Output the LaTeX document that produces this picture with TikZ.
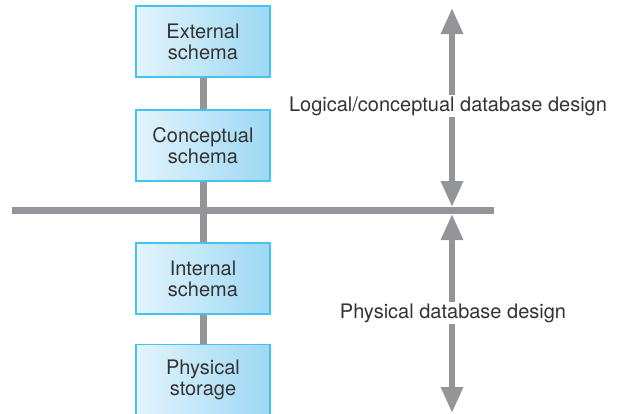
\documentclass[tikz,border=0pt]{standalone}
\usepackage{fontspec}
\setmainfont{TeX Gyre Heros}
\usetikzlibrary{positioning, arrows.meta}

\definecolor{boxL}{HTML}{E3F4FC}
\definecolor{boxR}{HTML}{9DD8F4}
\definecolor{boxEdge}{HTML}{45C3EE}
\definecolor{barGray}{HTML}{939598}
\definecolor{txtGray}{HTML}{333333}

\begin{document}
\begin{tikzpicture}[
  x=1pt, y=-1pt,
  every node/.style={font=\fontsize{20}{21}\selectfont, text=txtGray},
  level/.style={draw=boxEdge, line width=1.2pt, left color=boxL, right color=boxR,
                minimum width=134pt, minimum height=71pt, align=center, inner sep=0pt},
  spine/.style={draw=barGray, line width=7pt},
  span/.style={draw=barGray, line width=6pt, {Triangle[width=21pt,length=26pt]}-{Triangle[width=21pt,length=26pt]}},
  lbl/.style={font=\fontsize{20}{22}\selectfont, fill=white, inner sep=2pt}
]
\useasboundingbox (0,0) rectangle (620,413);

%--- Levels ---
\node[level] (ext)  at (203, 41.5)  {External\\schema};
\node[level] (conc) at (203, 145.5) {Conceptual\\schema};
\node[level] (int)  at (203, 278.5) {Internal\\schema};
\node[level] (phys) at (203, 380)   {Physical\\storage};

%--- Divider ---
\coordinate (divL) at (12, 210.5);
\coordinate (divR) at (494, 210.5);
\draw[spine] (divL) -- (divR);

%--- Spine between levels ---
\draw[spine] (ext.south) -- (conc.north);
\draw[spine] (conc.south) -- (int.north);
\draw[spine] (int.south) -- (phys.north);

%--- Design spans ---
\coordinate (logTop) at (452, 8);
\coordinate (logBot) at (452, 207);
\coordinate (phyTop) at (452, 214);
\coordinate (phyBot) at (452, 413);
\draw[span] (logTop) -- (logBot);
\draw[span] (phyTop) -- (phyBot);

\node[lbl] (logLbl) at (448, 106) {Logical/conceptual database design};
\node[lbl] (phyLbl) at (453, 313) {Physical database design};

\end{tikzpicture}
\end{document}
